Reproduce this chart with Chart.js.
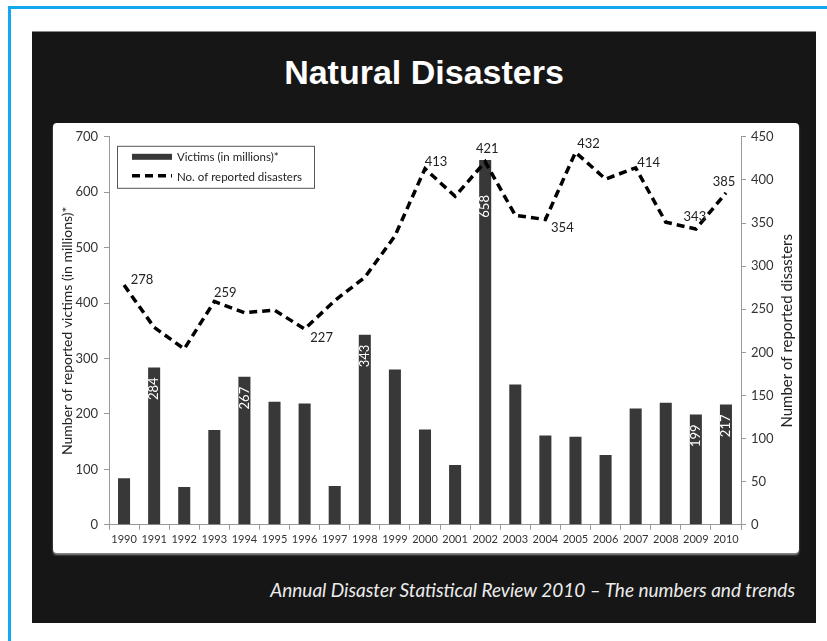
<!DOCTYPE html>
<html lang="en">
<head>
    <meta charset="UTF-8">
    <title>Natural Disasters</title>
    <script src="https://cdn.jsdelivr.net/npm/chart.js@4/dist/chart.umd.min.js"></script>
    <style>
        html, body {margin: 0; padding: 0; background: #fff;}
        body {width: 827px; height: 641px; position: relative; overflow: hidden;}
        #frame {position: absolute; left: 8px; top: 6px; width: 900px; height: 700px;
                border-left: 3px solid #12a9ee; border-top: 3px solid #12a9ee;}
        #slide {position: absolute; left: 32px; top: 31px; width: 784px; height: 592px;
                background: #161616; border-top: 1px solid #8a8a8a; box-sizing: border-box;}
        #title {position: absolute; left: 0; top: 20px; width: 100%; text-align: center;
                color: #fff; font: bold 34px "Liberation Sans", Arial, sans-serif; line-height: 40px;}
        #box {position: absolute; left: 21px; top: 91px; width: 746px; height: 430px;
              background: #fff; border-radius: 4px; box-shadow: 0 2px 2px #8a8a8a;}
        #caption {position: absolute; right: 21px; top: 546px; color: #ececec;
                  font: italic 19px Lato, sans-serif; line-height: 24px; white-space: nowrap;}
    </style>
</head>
<body>
<div id="frame"></div>
<div id="slide">
    <div id="title">Natural Disasters</div>
    <div id="box"><canvas id="chart" width="746" height="430"></canvas></div>
    <div id="caption">Annual Disaster Statistical Review 2010 – The numbers and trends</div>
</div>
<script>
    const years = ['1990', '1991', '1992', '1993', '1994', '1995', '1996', '1997', '1998', '1999', '2000',
        '2001', '2002', '2003', '2004', '2005', '2006', '2007', '2008', '2009', '2010'];
    // victims, millions (left axis)
    const victims = [84, 284, 68, 171, 267, 222, 219, 70, 343, 280, 172,
        108, 658, 253, 161, 159, 126, 210, 220, 199, 217];
    // number of reported disasters (right axis)
    const disasters = [278, 229, 204, 259, 246, 249, 227, 260, 287, 335, 413,
        381, 421, 359, 354, 432, 401, 414, 351, 343, 385];
    const victimTicks = [0, 100, 200, 300, 400, 500, 600, 700];
    const disasterTicks = [0, 50, 100, 150, 200, 250, 300, 350, 400, 450];
    // which points carry a value label
    const victimLabelYears = ['1991', '1994', '1998', '2002', '2009', '2010'];
    const disasterLabelYears = ['1990', '1993', '1996', '2000', '2002', '2004', '2005', '2007', '2009', '2010'];

    // label placement (pixels)
    const barLabelInset = {'2002': 35};
    const lineLabelOffset = {
        '1990': [18, -5], '1993': [11, -9], '1996': [17, 9], '2000': [11, -7], '2002': [2, -13],
        '2004': [17, 8], '2005': [13, -9], '2007': [13, -5], '2009': [-1, -12], '2010': [-2, -11]
    };

    const FONT = 'Lato';
    const AXIS = '#9a9a9a';

    function useTicks(values) {
        return function (scale) {
            scale.ticks = values.map(v => ({value: v}));
        };
    }

    function fixWidth(w) {
        return function (scale) {
            scale.width = w;
        };
    }

    const valueLabels = {
        id: 'valueLabels',
        afterDatasetsDraw(chart) {
            const ctx = chart.ctx;
            const bars = chart.getDatasetMeta(0).data;
            const pts = chart.getDatasetMeta(1).data;
            ctx.save();
            ctx.font = '13px ' + FONT;
            ctx.fillStyle = '#fff';
            ctx.textBaseline = 'middle';
            victimLabelYears.forEach(yr => {
                const i = years.indexOf(yr);
                const b = bars[i];
                ctx.save();
                ctx.translate(b.x, b.y + (barLabelInset[yr] || 10));
                ctx.rotate(-Math.PI / 2);
                ctx.textAlign = 'right';
                ctx.fillText(String(victims[i]), 0, 0);
                ctx.restore();
            });
            ctx.fillStyle = '#222';
            ctx.textAlign = 'center';
            disasterLabelYears.forEach(yr => {
                const i = years.indexOf(yr);
                const p = pts[i];
                const off = lineLabelOffset[yr] || [0, -10];
                ctx.fillText(String(disasters[i]), p.x + off[0], p.y + off[1]);
            });
            ctx.restore();
        },
        afterDraw(chart) {
            const ctx = chart.ctx;
            const area = chart.chartArea;
            const ds = chart.data.datasets;
            ctx.save();
            // legend box
            const lx = area.left + 8, ly = area.top + 9;
            ctx.strokeStyle = '#555';
            ctx.lineWidth = 1;
            ctx.strokeRect(lx + 0.5, ly + 0.5, 197, 42);
            ctx.fillStyle = ds[0].backgroundColor;
            ctx.fillRect(lx + 15, ly + 8, 40, 6);
            ctx.beginPath();
            ctx.setLineDash(ds[1].borderDash);
            ctx.strokeStyle = ds[1].borderColor;
            ctx.lineWidth = ds[1].borderWidth;
            ctx.moveTo(lx + 15, ly + 30);
            ctx.lineTo(lx + 55, ly + 30);
            ctx.stroke();
            ctx.setLineDash([]);
            ctx.font = '11.5px ' + FONT;
            ctx.fillStyle = '#222';
            ctx.textBaseline = 'middle';
            ctx.textAlign = 'left';
            ctx.fillText(ds[0].label, lx + 60, ly + 11);
            ctx.fillText(ds[1].label, lx + 60, ly + 31);
            // right axis title, reading upwards
            ctx.save();
            ctx.translate(chart.width - 12, (area.top + area.bottom) / 2);
            ctx.rotate(-Math.PI / 2);
            ctx.textAlign = 'center';
            ctx.font = '15px ' + FONT;
            ctx.fillText('Number of reported disasters', 0, 0);
            ctx.restore();
            ctx.restore();
        }
    };

    new Chart('chart', {
        data: {
            labels: years,
            datasets: [
                {
                    type: 'bar',
                    label: 'Victims (in millions)*',
                    data: victims,
                    yAxisID: 'y',
                    backgroundColor: '#383838',
                    barPercentage: 0.4,
                    categoryPercentage: 1,
                    order: 2
                },
                {
                    type: 'line',
                    label: 'No. of reported disasters',
                    data: disasters,
                    yAxisID: 'y1',
                    borderColor: '#000',
                    borderWidth: 3.5,
                    borderDash: [8, 5],
                    pointRadius: 0,
                    tension: 0,
                    fill: false,
                    order: 1
                }
            ]
        },
        options: {
            responsive: false,
            animation: false,
            layout: {padding: {left: 6, right: 21, top: -4, bottom: 4}},
            plugins: {legend: {display: false}, tooltip: {enabled: false}},
            scales: {
                x: {
                    grid: {drawOnChartArea: false, tickLength: 5, color: AXIS, offset: true},
                    border: {color: AXIS},
                    ticks: {font: {family: FONT, size: 11}, color: '#333', padding: 3, maxRotation: 0, autoSkip: false}
                },
                y: {
                    position: 'left',
                    min: 0, max: 700,
                    afterBuildTicks: useTicks(victimTicks),
                    afterFit: fixWidth(50),
                    grid: {drawOnChartArea: false, tickLength: 5, color: AXIS},
                    border: {color: AXIS},
                    ticks: {font: {family: FONT, size: 13}, color: '#333', padding: 6},
                    title: {
                        display: true, text: 'Number of reported victims (in millions)*',
                        font: {family: FONT, size: 14}, color: '#222', padding: {top: 0, bottom: 0}
                    }
                },
                y1: {
                    position: 'right',
                    min: 0, max: 450,
                    afterBuildTicks: useTicks(disasterTicks),
                    afterFit: fixWidth(37),
                    grid: {drawOnChartArea: false, tickLength: 5, color: AXIS},
                    border: {color: AXIS},
                    ticks: {font: {family: FONT, size: 13}, color: '#333', padding: 5}
                }
            }
        },
        plugins: [valueLabels]
    });
</script>
</body>
</html>
